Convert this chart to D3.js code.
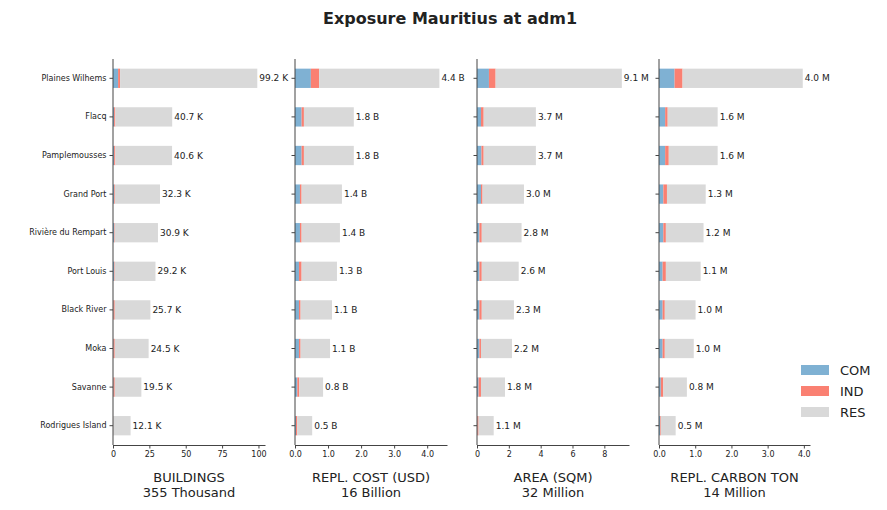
<!DOCTYPE html>
<html><head><meta charset="utf-8">
<script src="https://cdn.jsdelivr.net/npm/d3@7"></script>
<style>body{margin:0;background:#fff}text{font-family:"DejaVu Sans",sans-serif;fill:#222}</style>
</head><body><svg id="c" width="887" height="510"></svg>
<script>
const categories=["Plaines Wilhems","Flacq","Pamplemousses","Grand Port","Rivière du Rempart","Port Louis","Black River","Moka","Savanne","Rodrigues Island"];
const series=["COM","IND","RES"];
const colors=["#7fb1d3","#fa8072","#d9d9d9"];
const bldCom=[3.5,0.8,0.8,0.8,0.8,0.8,0.3,0.3,0.3,0.1];
const bldInd=[1.4,0.8,0.8,0.5,0.4,0.4,0.9,0.9,0.9,0.1];
const bldTot=[99.2,40.7,40.6,32.3,30.9,29.2,25.7,24.5,19.5,12.1];
const costCom=[0.48,0.2,0.2,0.15,0.15,0.12,0.12,0.12,0.07,0.03];
const costInd=[0.25,0.07,0.07,0.05,0.05,0.08,0.05,0.05,0.06,0.04];
const costTot=[4.37,1.78,1.78,1.42,1.36,1.27,1.12,1.06,0.85,0.52];
const areaCom=[0.75,0.25,0.28,0.25,0.15,0.15,0.15,0.15,0.1,0.02];
const areaInd=[0.42,0.17,0.14,0.1,0.15,0.15,0.15,0.1,0.15,0.08];
const areaTot=[9.1,3.7,3.7,2.95,2.8,2.62,2.32,2.2,1.76,1.05];
const carbCom=[0.43,0.17,0.17,0.12,0.12,0.1,0.1,0.1,0.05,0.03];
const carbInd=[0.22,0.07,0.1,0.1,0.07,0.09,0.06,0.06,0.07,0.02];
const carbTot=[3.97,1.62,1.62,1.29,1.23,1.15,1.01,0.96,0.77,0.46];
const panels=[
 {t1:"BUILDINGS",t2:"355 Thousand",com:bldCom,ind:bldInd,tot:bldTot,max:104.5,ticks:[0,25,50,75,100],unit:"K",x0:113,x1:265},
 {t1:"REPL. COST (USD)",t2:"16 Billion",com:costCom,ind:costInd,tot:costTot,max:4.6,ticks:[0,1,2,3,4],unit:"B",x0:295,x1:447},
 {t1:"AREA (SQM)",t2:"32 Million",com:areaCom,ind:areaInd,tot:areaTot,max:9.55,ticks:[0,2,4,6,8],unit:"M",x0:477,x1:629},
 {t1:"REPL. CARBON TON",t2:"14 Million",com:carbCom,ind:carbInd,tot:carbTot,max:4.17,ticks:[0,1,2,3,4],unit:"M",x0:659,x1:810}];
const svg=d3.select("#c");
svg.append("text").attr("x",450).attr("y",24).attr("text-anchor","middle").attr("font-size",16).attr("font-weight","bold").text("Exposure Mauritius at adm1");
const yTop=59,yBot=445;
const y=d3.scaleBand().domain(categories).range([yTop,yBot]).paddingInner(0.5).paddingOuter(0.25);
panels.forEach((p,pi)=>{
  const x=d3.scaleLinear().domain([0,p.max]).range([p.x0,p.x1]);
  const g=svg.append("g");
  categories.forEach((c,i)=>{
    const segs=[[0,p.com[i]],[p.com[i],p.com[i]+p.ind[i]],[p.com[i]+p.ind[i],p.tot[i]]];
    segs.forEach((s,k)=>g.append("rect").attr("x",x(s[0])).attr("width",Math.max(0,x(s[1])-x(s[0]))).attr("y",y(c)).attr("height",y.bandwidth()).attr("fill",colors[k]));
    g.append("text").attr("x",x(p.tot[i])+2).attr("y",y(c)+y.bandwidth()/2).attr("dy","0.35em").attr("font-size",9).text(p.tot[i].toFixed(1)+" "+p.unit);
  });
  const ax=g.append("g").attr("transform",`translate(0,${yBot})`).call(d3.axisBottom(x).tickValues(p.ticks).tickSize(3.5).tickSizeOuter(0));
  ax.selectAll("text").attr("font-size",8);
  const ay=g.append("g").attr("transform",`translate(${p.x0},0)`).call(d3.axisLeft(y).tickSize(3.5).tickSizeOuter(0));
  ay.select(".domain").attr("d",`M0,${yTop}V${yBot}`);
  ay.selectAll("text").attr("font-size",8).style("display",pi==0?null:"none");
  g.selectAll(".domain,.tick line").attr("stroke","#444");
  const cx=(p.x0+p.x1)/2;
  g.append("text").attr("x",cx).attr("y",482).attr("text-anchor","middle").attr("font-size",13).text(p.t1);
  g.append("text").attr("x",cx).attr("y",497).attr("text-anchor","middle").attr("font-size",13).text(p.t2);
});
series.forEach((s,i)=>{
  svg.append("rect").attr("x",801).attr("y",365+i*21).attr("width",28).attr("height",10).attr("fill",colors[i]);
  svg.append("text").attr("x",840).attr("y",370+i*21).attr("dy","0.35em").attr("font-size",13).text(s);
});
</script></body></html>
